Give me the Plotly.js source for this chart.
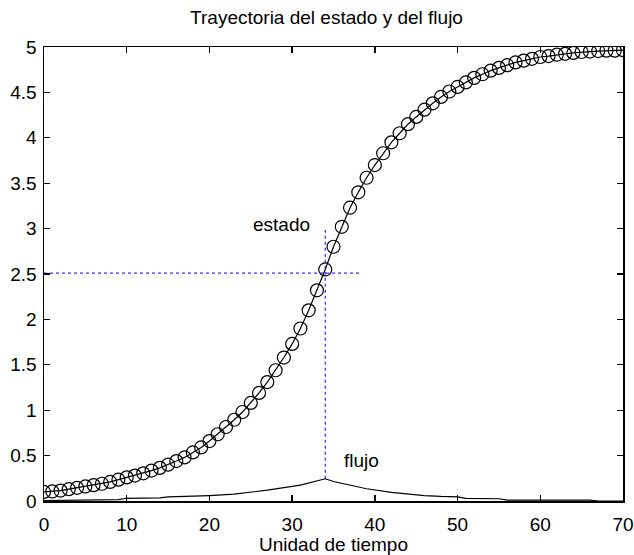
<!DOCTYPE html>
<html>
<head>
<meta charset="utf-8">
<script src="https://cdn.plot.ly/plotly-3.0.1.min.js"></script>
<style>html,body{margin:0;padding:0;background:#fff;}#chart{width:634px;height:555px;}</style>
</head>
<body>
<div id="chart"></div>
<script>
// Time axis (state sampled every unit)
const tiempo = [0,1,2,3,4,5,6,7,8,9,10,11,12,13,14,15,16,17,18,19,20,21,22,23,24,25,26,27,28,29,30,31,32,33,34,35,36,37,38,39,40,41,42,43,44,45,46,47,48,49,50,51,52,53,54,55,56,57,58,59,60,61,62,63,64,65,66,67,68,69,70];
// State trajectory
const estado = [0.10,0.105,0.115,0.13,0.145,0.16,0.175,0.19,0.21,0.235,0.26,0.28,0.305,0.335,0.365,0.40,0.44,0.48,0.535,0.59,0.66,0.735,0.815,0.895,0.98,1.08,1.19,1.31,1.44,1.58,1.73,1.90,2.10,2.32,2.55,2.80,3.02,3.23,3.40,3.56,3.70,3.83,3.95,4.05,4.15,4.23,4.31,4.38,4.45,4.51,4.56,4.61,4.66,4.70,4.74,4.77,4.80,4.83,4.85,4.87,4.89,4.90,4.915,4.925,4.935,4.945,4.95,4.955,4.96,4.96,4.965];
// Flow (piecewise)
const flujoT = [0,4,9,10,14,15,19,20,23,27,31,34,35,39,42,44,46,48,50,51,55,56,66,67,70];
const flujo  = [0.005,0.01,0.015,0.03,0.035,0.045,0.055,0.06,0.075,0.12,0.175,0.245,0.215,0.135,0.095,0.075,0.06,0.05,0.045,0.03,0.025,0.01,0.01,0,0];
// Dotted guide lines
const guiaHX = [0,38.3];
const guiaHY = [2.51,2.51];
const guiaVX = [34,34];
const guiaVY = [0.245,3.0];
// Labels
const etiquetas = [{t:28.7, v:3.04, texto:'estado'},{t:38.4, v:0.45, texto:'flujo'}];
const xTicks = [0,10,20,30,40,50,60,70];
const yTicks = [0,0.5,1,1.5,2,2.5,3,3.5,4,4.5,5];

const FONT = 'Liberation Sans, Arial, sans-serif';
const FS = 19;

const traces = [
  {x: guiaHX, y: guiaHY, mode:'lines', line:{color:'#0000ff', width:1, dash:'dot'}, hoverinfo:'skip'},
  {x: guiaVX, y: guiaVY, mode:'lines', line:{color:'#0000ff', width:1, dash:'dot'}, hoverinfo:'skip'},
  {x: flujoT, y: flujo, mode:'lines', line:{color:'#000', width:1.2}},
  {x: tiempo, y: estado, mode:'lines+markers', line:{color:'#000', width:1.2},
   marker:{symbol:'circle-open', size:13, color:'#000', line:{width:1.2, color:'#000'}}}
];

const layout = {
  width:634, height:555,
  margin:{l:44, r:11, t:47, b:54},
  paper_bgcolor:'#fff', plot_bgcolor:'#fff',
  showlegend:false,
  font:{family:FONT, size:FS, color:'#000'},
  title:{text:'Trayectoria del estado y del flujo', font:{family:FONT, size:FS, color:'#000'},
         x:0.515, xref:'container', xanchor:'center', y:1-17/555, yref:'container', yanchor:'middle'},
  xaxis:{range:[0,70], tickvals:xTicks, ticktext:xTicks.map(String), ticks:'inside', ticklen:6, tickcolor:'#000', tickwidth:1.3,
         showline:true, linecolor:'#000', linewidth:1.5, mirror:'ticks', showgrid:false, zeroline:false,
         ticklabelstandoff:6,
         title:{text:'Unidad de tiempo', font:{family:FONT, size:FS, color:'#000'}, standoff:9}},
  yaxis:{range:[0,5], tickvals:yTicks, ticktext:yTicks.map(String), ticks:'inside', ticklen:6, tickcolor:'#000', tickwidth:1.3,
         showline:true, linecolor:'#000', linewidth:1.5, mirror:'ticks', showgrid:false, zeroline:false,
         ticklabelstandoff:2},
  annotations: etiquetas.map(e => ({x:e.t, y:e.v, xref:'x', yref:'y', text:e.texto, showarrow:false,
         font:{family:FONT, size:FS, color:'#000'}, xanchor:'center', yanchor:'middle'}))
};

Plotly.newPlot('chart', traces, layout, {displayModeBar:false, staticPlot:true});
</script>
</body>
</html>
